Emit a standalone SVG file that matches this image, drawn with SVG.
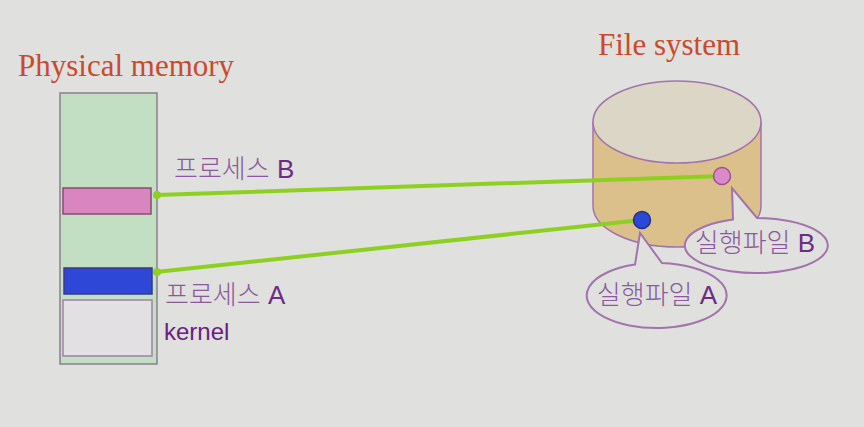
<svg xmlns="http://www.w3.org/2000/svg" width="864" height="427" viewBox="0 0 864 427">
<style>
.title{font-family:"Liberation Serif","Times New Roman",serif;font-size:31px;fill:#c94a2c}
.lbl{font-family:"Liberation Sans","Noto Sans CJK KR",sans-serif;font-size:26px;fill:#6e2c86}
.ko{fill:#8a5a9c;font-weight:300}
.conn{stroke:#8ed022;stroke-width:4;fill:none;stroke-linecap:round}
.cdot{fill:#8ed022}
.callout{fill:#e0e0de;stroke:#a273ac;stroke-width:2}
</style>
<rect x="0" y="0" width="864" height="427" fill="#e0e0de"/>
<g id="memory">
<text class="title" x="18" y="76">Physical memory</text>
<rect x="60" y="93" width="97" height="271" fill="#c3dfc3" stroke="#8a7f8f" stroke-width="1.5"/>
</g>
<g id="processB">
<rect x="63" y="188" width="88" height="26" fill="#d986c0" stroke="#8a4a70" stroke-width="1.5"/>
<text class="lbl" x="174" y="178"><tspan class="ko">프로세스</tspan> B</text>
</g>
<g id="processA">
<rect x="64" y="268" width="88" height="26" fill="#2e47d6" stroke="#3a3a8a" stroke-width="1.5"/>
<text class="lbl" x="165" y="304"><tspan class="ko">프로세스</tspan> A</text>
</g>
<g id="kernel">
<rect x="63" y="300" width="89" height="56" fill="#e2e0e2" stroke="#a080a8" stroke-width="1.5"/>
<text class="lbl" x="164" y="340" style="fill:#6a2080;font-size:24px">kernel</text>
</g>
<g id="filesystem">
<text class="title" x="598" y="55">File system</text>
<path d="M593,122 L593,206 A84,41 0 0 0 761,206 L761,122 Z" fill="#dcc08c" stroke="#a273ac" stroke-width="1.5"/>
<ellipse cx="677" cy="122" rx="84" ry="41" fill="#dcd6c6" stroke="#a273ac" stroke-width="1.5"/>
</g>
<g id="connectors">
<line class="conn" x1="156" y1="195" x2="722" y2="176"/>
<line class="conn" x1="156" y1="272" x2="642" y2="220"/>
<circle class="cdot" cx="157" cy="195" r="4"/>
<circle class="cdot" cx="157" cy="272" r="4"/>
</g>
<g id="fileB">
<circle cx="722" cy="176" r="8.5" fill="#da8ac8" stroke="#a05090" stroke-width="1.5"/>
<path class="callout" d="M733,219.5 L732,188 L757,218 A71.5,27.5 0 1 1 733,219.5 Z"/>
<text class="lbl" x="755" y="252" text-anchor="middle"><tspan class="ko">실행파일</tspan> B</text>
</g>
<g id="fileA">
<circle cx="642" cy="220" r="8.5" fill="#2b48d8" stroke="#28307a" stroke-width="1.5"/>
<path class="callout" d="M635,264.6 L640,233 L662,263.1 A70,32.5 0 1 1 635,264.6 Z"/>
<text class="lbl" x="657" y="304" text-anchor="middle"><tspan class="ko">실행파일</tspan> A</text>
</g>
</svg>
